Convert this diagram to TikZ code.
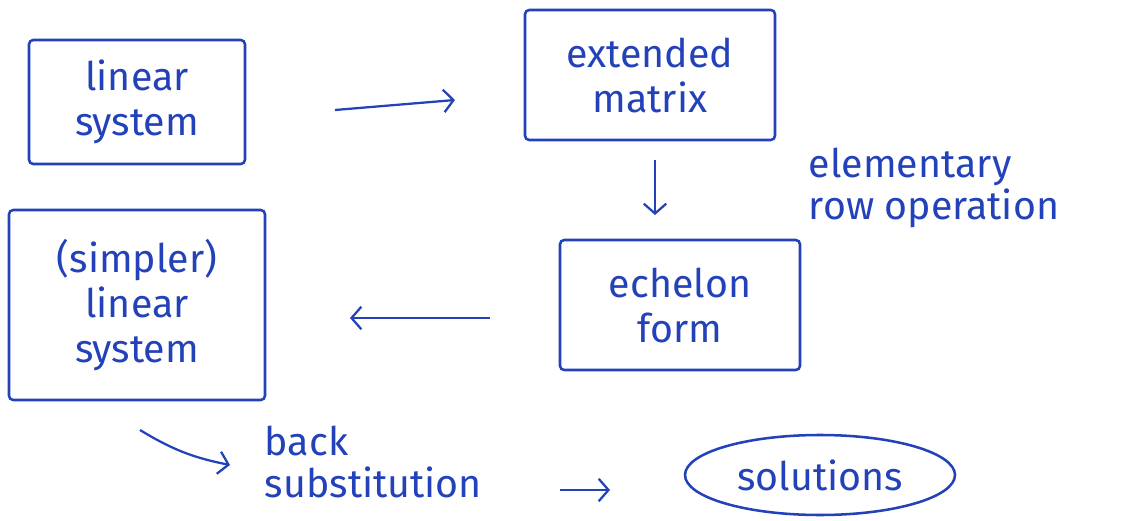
\documentclass[tikz,border=0pt]{standalone}
\usepackage{fontspec}
\setmainfont{Fira Sans}
\usetikzlibrary{shapes.geometric}
\usetikzlibrary{arrows.meta}
\definecolor{handblue}{RGB}{35,65,185}
\tikzset{
    box/.style = {rectangle, draw=handblue, line width=1.8pt, rounded corners=3pt, align=center, text=handblue, font=\fontsize{28}{32}\selectfont},
    oval/.style = {ellipse, draw=handblue, line width=1.8pt, align=center, text=handblue, font=\fontsize{28}{32}\selectfont},
    note/.style = {align=left, anchor=west, text=handblue, font=\fontsize{28}{30}\selectfont},
    edgeh/.style = {-{Straight Barb[length=7pt,width=16pt]}, line width=1.6pt, handblue},
}
\begin{document}
\begin{tikzpicture}
\useasboundingbox (0,0) rectangle (28.175,-13.025);
%
\node[box, minimum width=5.4cm, minimum height=3.1cm] at (3.425,-2.55) (lin) {linear\\system};
\node[box, minimum width=6.25cm, minimum height=3.25cm] at (16.25,-1.875) (ext) {extended\\matrix};
\node[box, minimum width=6cm, minimum height=3.25cm] at (17,-7.625) (ech) {echelon\\form};
\node[box, minimum width=6.4cm, minimum height=4.75cm] at (3.425,-7.625) (simp) {(simpler)\\linear\\system};
\node[oval, minimum width=6.75cm, minimum height=2cm] at (20.5,-11.875) (sol) {solutions};
\node[note] at (20.1,-4.7) (elem) {elementary\\row operation};
\node[note] at (6.5,-11.55) (back) {back\\substitution};
%
\coordinate (a1s) at (8.375,-2.75);
\coordinate (a1e) at (11.375,-2.5);
\coordinate (a2s) at (16.375,-4);
\coordinate (a2e) at (16.375,-5.375);
\coordinate (a3s) at (12.25,-7.95);
\coordinate (a3e) at (8.75,-7.95);
\coordinate (a4s) at (3.5,-10.75);
\coordinate (a4e) at (5.75,-11.625);
\coordinate (a5s) at (14,-12.25);
\coordinate (a5e) at (15.25,-12.25);
%
\draw[edgeh] (a1s) -- (a1e);
\draw[edgeh] (a2s) -- (a2e);
\draw[edgeh] (a3s) -- (a3e);
\draw[edgeh] (a4s) to[bend right=10] (a4e);
\draw[edgeh] (a5s) -- (a5e);

\end{tikzpicture}
\end{document}
